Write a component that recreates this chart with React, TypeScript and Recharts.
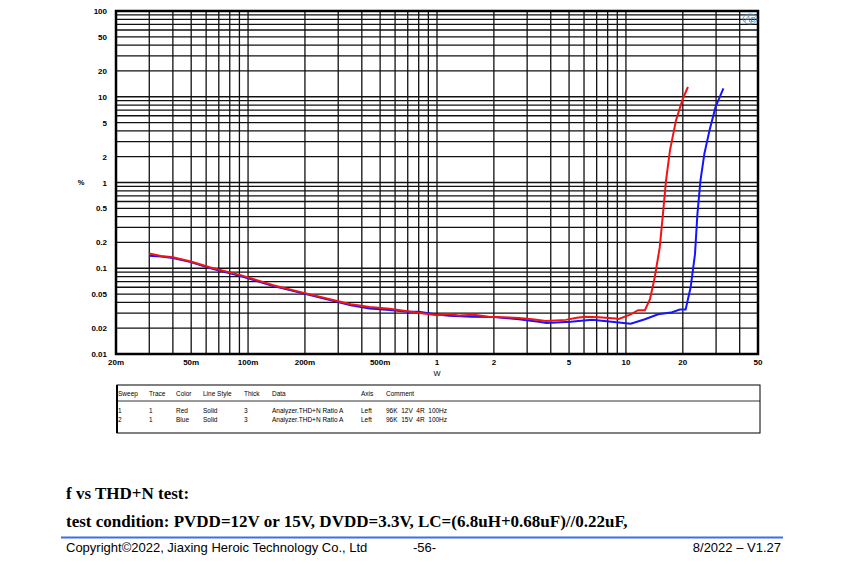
import { CartesianGrid, Line, LineChart, ReferenceArea, XAxis, YAxis } from "recharts";

// sweep 1: 96K 12V 4R 100Hz (red)
const redW = [0.03, 0.0346, 0.04, 0.0497, 0.0633, 0.0912, 0.136, 0.188, 0.271, 0.35, 0.44, 0.561, 0.778, 1.0, 1.16, 1.3, 1.57, 1.88, 2.71, 3.2, 3.76, 4.8, 5.5, 6.1, 7.2, 8.8, 9.1, 10.6, 11.6, 12.6, 13.4, 14.2, 15.1, 15.7, 16.3, 17.1, 18.4, 20, 21.3];
const redPct = [0.149, 0.139, 0.134, 0.12, 0.102, 0.0832, 0.0635, 0.053, 0.0436, 0.038, 0.0354, 0.0338, 0.0304, 0.0284, 0.0292, 0.0282, 0.0287, 0.0272, 0.0263, 0.0255, 0.0243, 0.025, 0.0265, 0.0272, 0.0268, 0.026, 0.0254, 0.029, 0.0324, 0.0324, 0.0436, 0.078, 0.175, 0.43, 1.05, 2.37, 5.3, 9.5, 13];

// sweep 2: 96K 15V 4R 100Hz (blue)
const blueW = [0.03, 0.0346, 0.04, 0.0497, 0.0633, 0.0912, 0.136, 0.188, 0.271, 0.35, 0.44, 0.561, 0.7, 0.8, 1.0, 1.16, 1.53, 2.0, 2.71, 3.46, 3.8, 5.1, 6.6, 8.4, 10.6, 12.6, 14.8, 17.3, 19.3, 20.7, 22, 23.2, 23.9, 24.8, 26, 27.7, 29.8, 32.8];
const bluePct = [0.14, 0.137, 0.132, 0.118, 0.1, 0.081, 0.062, 0.052, 0.0425, 0.037, 0.034, 0.0325, 0.031, 0.031, 0.0288, 0.028, 0.0272, 0.027, 0.0254, 0.0237, 0.023, 0.0237, 0.025, 0.0237, 0.0226, 0.0254, 0.029, 0.0304, 0.033, 0.033, 0.06, 0.146, 0.43, 1.05, 2.16, 4.06, 7.6, 12.5];

const xGrid = [0.02, 0.03, 0.04, 0.05, 0.06, 0.07, 0.08, 0.09, 0.1, 0.2, 0.3, 0.4, 0.5, 0.6, 0.7, 0.8, 0.9, 1, 2, 3, 4, 5, 6, 7, 8, 9, 10, 20, 30, 40, 50];
const yGrid = [0.01, 0.02, 0.03, 0.04, 0.05, 0.06, 0.07, 0.08, 0.09, 0.1, 0.2, 0.3, 0.4, 0.5, 0.6, 0.7, 0.8, 0.9, 1, 2, 3, 4, 5, 6, 7, 8, 9, 10, 20, 30, 40, 50, 60, 70, 80, 90, 100];

const xLabelValues = [0.02, 0.05, 0.1, 0.2, 0.5, 1, 2, 5, 10, 20, 50];
const xLabelTexts = ["20m", "50m", "100m", "200m", "500m", "1", "2", "5", "10", "20", "50"];
const yLabelValues = [0.01, 0.02, 0.05, 0.1, 0.2, 0.5, 1, 2, 5, 10, 20, 50, 100];
const yLabelTexts = ["0.01", "0.02", "0.05", "0.1", "0.2", "0.5", "1", "2", "5", "10", "20", "50", "100"];

const tableHead = ["Sweep", "Trace", "Color", "Line Style", "Thick", "Data", "Axis", "Comment"];
const tableRows = [
  ["1", "1", "Red", "Solid", "3", "Analyzer.THD+N Ratio A", "Left", "96K  12V  4R  100Hz"],
  ["2", "1", "Blue", "Solid", "3", "Analyzer.THD+N Ratio A", "Left", "96K  15V  4R  100Hz"],
];
const colX = [118, 149, 176, 203, 244, 272, 361, 386];

const redData = redW.map((w, i) => ({ w, pct: redPct[i] }));
const blueData = blueW.map((w, i) => ({ w, pct: bluePct[i] }));

const findLabel = (values: number[], texts: string[], v: number) => {
  const i = values.findIndex((d) => Math.abs(d - v) / d < 1e-6);
  return i < 0 ? null : texts[i];
};

const tickFont = { fontFamily: "Liberation Sans, Arial, sans-serif", fontSize: 8, fontWeight: 700 };

function XTick(props: any) {
  const t = findLabel(xLabelValues, xLabelTexts, props.payload.value);
  if (!t) return <g />;
  return (
    <text x={props.x} y={props.y + 3} textAnchor="middle" fill="#000" style={tickFont}>
      {t}
    </text>
  );
}

function YTick(props: any) {
  const t = findLabel(yLabelValues, yLabelTexts, props.payload.value);
  if (!t) return <g />;
  return (
    <text x={props.x - 1} y={props.y + 3} textAnchor="end" fill="#000" style={tickFont}>
      {t}
    </text>
  );
}

const sans = "Liberation Sans, Arial, sans-serif";
const serif = "Liberation Serif, Times New Roman, serif";

export default function App() {
  return (
    <div style={{ position: "relative", width: 850, height: 565, margin: -8, background: "#fff", overflow: "hidden" }}>
      <div style={{ position: "absolute", left: 0, top: 0 }}>
        <LineChart width={850} height={380} margin={{ top: 11, right: 92, left: 76, bottom: 6 }}>
          <CartesianGrid stroke="#111" strokeWidth={1.3} />
          <XAxis
            dataKey="w"
            type="number"
            scale="log"
            domain={[0.02, 50]}
            ticks={xGrid}
            interval={0}
            allowDataOverflow
            axisLine={false}
            tickLine={false}
            height={20}
            tick={(p: any) => <XTick {...p} />}
          />
          <YAxis
            dataKey="pct"
            type="number"
            scale="log"
            domain={[0.01, 100]}
            ticks={yGrid}
            interval={0}
            allowDataOverflow
            axisLine={false}
            tickLine={false}
            width={40}
            tick={(p: any) => <YTick {...p} />}
          />
          <ReferenceArea x1={0.02} x2={50} y1={0.01} y2={100} fill="none" stroke="#000" strokeWidth={2.5} />
          <Line data={blueData} dataKey="pct" stroke="#1414ff" strokeWidth={2} dot={false} isAnimationActive={false} />
          <Line data={redData} dataKey="pct" stroke="#f21414" strokeWidth={2} dot={false} isAnimationActive={false} />
        </LineChart>
      </div>
      <svg width={850} height={565} style={{ position: "absolute", left: 0, top: 0, pointerEvents: "none" }}>
        <text x={81} y={185} textAnchor="middle" style={{ fontFamily: sans, fontSize: 7.5, fontWeight: 700 }}>%</text>
        <text x={437} y={376} textAnchor="middle" style={{ fontFamily: sans, fontSize: 7.5 }}>W</text>
        <ellipse cx={750} cy={19} rx={7} ry={5} fill="none" stroke="#4a90c4" strokeWidth={0.8} />
        <text x={750} y={22} textAnchor="middle" fill="#2f7fb8" style={{ fontFamily: sans, fontSize: 9, fontStyle: "italic" }}>Ap</text>
        <rect x={117} y={385} width={643} height={48} fill="none" stroke="#000" strokeWidth={1} />
        <line x1={117} y1={385} x2={117} y2={433} stroke="#000" strokeWidth={2} />
        <line x1={117} y1={401} x2={760} y2={401} stroke="#000" strokeWidth={0.8} />
        {tableHead.map((h, i) => (
          <text key={h} x={colX[i]} y={396} style={{ fontFamily: sans, fontSize: 6.5 }}>{h}</text>
        ))}
        {tableRows.map((row, r) =>
          row.map((c, i) => (
            <text key={`${r}-${i}`} x={colX[i]} y={413 + r * 9} style={{ fontFamily: sans, fontSize: 6.5, whiteSpace: "pre" }}>{c}</text>
          ))
        )}
        <text x={66} y={499} style={{ fontFamily: serif, fontSize: 17, fontWeight: 700 }}>f vs THD+N test:</text>
        <text x={66} y={527} style={{ fontFamily: serif, fontSize: 17, fontWeight: 700 }}>
          test condition: PVDD=12V or 15V, DVDD=3.3V, LC=(6.8uH+0.68uF)//0.22uF,
        </text>
        <line x1={61} y1={537.5} x2={783} y2={537.5} stroke="#3b6fe8" strokeWidth={2} />
        <text x={66} y={552} style={{ fontFamily: sans, fontSize: 13 }}>Copyright©2022, Jiaxing Heroic Technology Co., Ltd</text>
        <text x={413} y={552} style={{ fontFamily: sans, fontSize: 13 }}>-56-</text>
        <text x={781} y={552} textAnchor="end" style={{ fontFamily: sans, fontSize: 13 }}>8/2022 – V1.27</text>
      </svg>
    </div>
  );
}
